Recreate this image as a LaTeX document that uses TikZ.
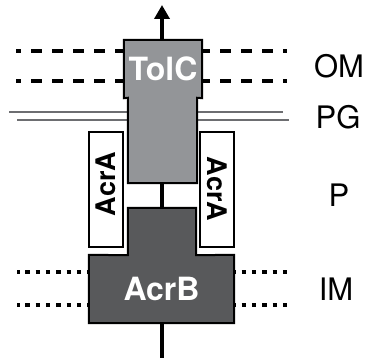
\documentclass[tikz,border=0pt]{standalone}
\usepackage{fontspec}
\setmainfont{TeX Gyre Heros}
\usetikzlibrary{arrows.meta, positioning}
\definecolor{tolccolor}{HTML}{939598}
\definecolor{acrbcolor}{HTML}{58595B}
\definecolor{pgcolor}{HTML}{6D6E71}

\begin{document}
\begin{tikzpicture}[x=1pt, y=-1pt,
    omline/.style={line width=4.5pt, dash pattern=on 11pt off 10pt, dash phase=6pt},
    imline/.style={line width=4.5pt, dash pattern=on 4.5pt off 5.8pt, dash phase=2pt},
    pgline/.style={line width=2pt, color=pgcolor},
    part/.style={rectangle, inner sep=0pt, text=white, font=\fontsize{32}{32}\selectfont\bfseries},
    outline/.style={draw=black, line width=2pt, line join=miter},
    acrabox/.style={rectangle, draw=black, line width=1.5pt, fill=white,
                    minimum width=34pt, minimum height=115pt, inner sep=0pt},
    acratext/.style={inner sep=0pt, font=\fontsize{27}{27}\selectfont\bfseries},
    layer/.style={inner sep=0pt, font=\fontsize{31}{31}\selectfont},
    stem/.style={line width=4.5pt},
    arrow/.style={-{Triangle[length=14pt, width=15pt]}, line width=4pt}
]
    \useasboundingbox (0,0) rectangle (367,358);

    % membranes
    \draw[omline] (16,51) -- (287,51);
    \draw[omline] (16,81) -- (287,81);
    \draw[pgline] (9,112) -- (283,112);
    \draw[pgline] (17,120) -- (289,120);
    \draw[imline] (17,272) -- (290,272);
    \draw[imline] (17,305) -- (290,305);

    \node[layer] (om) at (339,66) {OM};
    \node[layer] (pg) at (338,117) {PG};
    \node[layer] (p) at (339,195) {P};
    \node[layer] (im) at (336,289) {IM};

    % TolC
    \node[part, fill=tolccolor, minimum width=78pt, minimum height=58pt] (tolcw) at (163,69) {TolC};
    \node[part, fill=tolccolor, minimum width=69pt, minimum height=85pt] (tolcn) at (162.5,140.5) {};
    \draw[outline] (tolcw.north west) -- (tolcw.north east) -- (tolcw.south east)
        -- (tolcn.north east) -- (tolcn.south east) -- (tolcn.south west)
        -- (tolcn.north west) -- (tolcw.south west) -- cycle;

    % AcrA
    \node[acrabox] (acral) at (106,189.5) {};
    \node[acrabox] (acrar) at (217,189.5) {};
    \node[acratext, rotate=90] (acralt) at (106,184) {AcrA};
    \node[acratext, rotate=-90] (acrart) at (217,189) {AcrA};

    % AcrB
    \node[part, fill=acrbcolor, minimum width=68pt, minimum height=47pt] (acrbn) at (162,231.5) {};
    \node[part, fill=acrbcolor, minimum width=145pt, minimum height=68pt] (acrbw) at (161.5,289) {AcrB};
    \draw[outline] (acrbn.north west) -- (acrbn.north east) -- (acrbn.south east)
        -- (acrbw.north east) -- (acrbw.south east) -- (acrbw.south west)
        -- (acrbw.north west) -- (acrbn.south west) -- cycle;

    \coordinate (exit) at (162,5);
    \coordinate (entry) at (162,358);
    \draw[arrow] (tolcw.north -| exit) -- (exit);
    \draw[stem] (tolcn.south -| exit) -- (acrbn.north -| exit);
    \draw[line width=4pt] (acrbw.south -| entry) -- (entry);
\end{tikzpicture}
\end{document}
